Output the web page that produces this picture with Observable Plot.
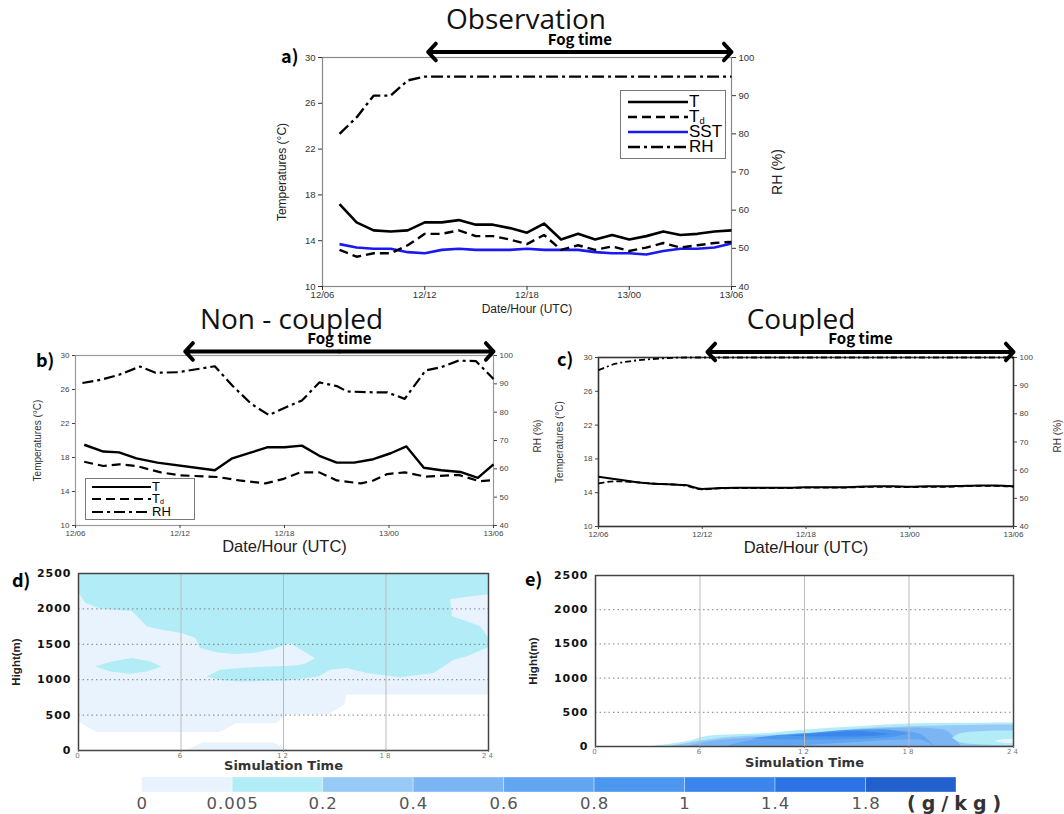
<!DOCTYPE html>
<html>
<head>
<meta charset="utf-8">
<script src="https://cdn.jsdelivr.net/npm/d3@7"></script>
<script src="https://cdn.jsdelivr.net/npm/@observablehq/plot@0.6"></script>
<style>
  body { margin: 0; background: #fff; }
  #root { position: relative; width: 1064px; height: 814px; overflow: hidden; background: #fff; font-family: "Liberation Sans", Arial, sans-serif; }
  .plab { position: absolute; font-family: "Noto Sans CJK KR", "Noto Sans", sans-serif; font-weight: bold; font-size: 18px; line-height: 1; color: #000; }
  .leg { position: absolute; border: 1px solid #777; background: #fff; font-family: "Liberation Sans", Arial, sans-serif; color: #000; }
  .leg .row { position: absolute; left: 0; white-space: nowrap; line-height: 1; }
  .leg .row span.sub { font-size: 55%; position: relative; top: 0.2em; }
  .leg svg { position: absolute; overflow: visible; }
</style>
</head>
<body>
<div id="root"></div>
<script>
// ---------- shared axes ----------
const timeTicks = [0, 6, 12, 18, 24];
const timeTickLabels = ["12/06", "12/12", "12/18", "13/00", "13/06"];
const tempTicks = [10, 14, 18, 22, 26, 30];
const rhTicks = [40, 50, 60, 70, 80, 90, 100];
const hgtTicks = [0, 500, 1000, 1500, 2000, 2500];
const simTicks = [0, 6, 12, 18, 24];

// ---------- a) Observation ----------
const obsHours = [1, 2, 3, 4, 5, 6, 7, 8, 9, 10, 11, 12, 13, 14, 15, 16, 17, 18, 19, 20, 21, 22, 23, 24];
const obsT   = [17.2, 15.6, 14.9, 14.8, 14.9, 15.6, 15.6, 15.8, 15.4, 15.4, 15.1, 14.7, 15.5, 14.1, 14.6, 14.1, 14.5, 14.1, 14.4, 14.8, 14.5, 14.6, 14.8, 14.9];
const obsTd  = [13.2, 12.6, 12.9, 12.9, 13.6, 14.6, 14.6, 14.9, 14.4, 14.4, 14.1, 13.7, 14.5, 13.2, 13.6, 13.2, 13.5, 13.1, 13.4, 13.8, 13.4, 13.6, 13.8, 13.9];
const obsSST = [13.7, 13.4, 13.3, 13.3, 13.0, 12.9, 13.2, 13.3, 13.2, 13.2, 13.2, 13.3, 13.2, 13.2, 13.2, 13.0, 12.9, 12.9, 12.8, 13.1, 13.3, 13.3, 13.4, 13.75];
const obsRH  = [80, 84.3, 90, 90, 94, 95, 95, 95, 95, 95, 95, 95, 95, 95, 95, 95, 95, 95, 95, 95, 95, 95, 95, 95];
const obsFog = [6.2, 24];

// ---------- b) Non-coupled ----------
const nonTHours = [0.5, 1.6, 2.5, 3.5, 4.7, 8.0, 9.0, 10.1, 11.0, 12.0, 13.0, 14.0, 15.0, 16.0, 17.1, 18.1, 19.0, 20.0, 21.0, 22.1, 23.1, 24];
const nonT      = [19.5, 18.7, 18.6, 17.9, 17.4, 16.5, 17.9, 18.6, 19.2, 19.2, 19.4, 18.2, 17.4, 17.4, 17.8, 18.5, 19.3, 16.8, 16.5, 16.3, 15.6, 17.2];
const nonTdHours = [0.5, 1.6, 2.5, 3.5, 4.9, 6.0, 8.2, 9.4, 10.9, 11.9, 12.9, 14.0, 15.0, 16.4, 17.1, 17.9, 18.9, 20.1, 22.0, 23.2, 24];
const nonTd      = [17.5, 17.0, 17.2, 17.0, 16.25, 15.9, 15.7, 15.3, 14.95, 15.45, 16.25, 16.25, 15.3, 14.95, 15.3, 16.05, 16.25, 15.75, 15.95, 15.2, 15.35];
const nonRHHours = [0.4, 1.5, 2.5, 3.7, 4.6, 5.9, 8.0, 9.0, 10.1, 11.1, 12.3, 13.0, 14.0, 15.0, 15.6, 17.1, 17.9, 18.9, 20.1, 21.0, 22.0, 23.0, 24];
const nonRH      = [90.3, 91.5, 93.2, 96.1, 93.9, 94.1, 96.2, 89.4, 82.9, 79.0, 82.3, 84.1, 90.5, 89.2, 87.3, 87.0, 87.0, 84.7, 94.7, 95.9, 98.2, 98.0, 91.7];
const nonFog = [6.3, 24];

// ---------- c) Coupled ----------
const coupHours = [0, 1, 2, 3, 4, 5, 6, 7, 8, 9, 10, 11, 12, 13, 14, 15, 16, 17, 18, 19, 20, 21, 22, 23, 24];
const coupT  = [15.9, 15.6, 15.3, 15.1, 15.0, 14.9, 14.45, 14.55, 14.6, 14.6, 14.6, 14.6, 14.65, 14.65, 14.65, 14.7, 14.75, 14.75, 14.7, 14.75, 14.75, 14.8, 14.85, 14.85, 14.75];
const coupTd = [15.1, 15.35, 15.25, 15.1, 15.0, 14.85, 14.4, 14.5, 14.55, 14.55, 14.55, 14.55, 14.6, 14.6, 14.6, 14.65, 14.7, 14.7, 14.65, 14.7, 14.7, 14.75, 14.8, 14.8, 14.7];
const coupRH = [95.5, 97.8, 98.8, 99.4, 99.8, 100, 100, 100, 100, 100, 100, 100, 100, 100, 100, 100, 100, 100, 100, 100, 100, 100, 100, 100, 100];
const coupFog = [6.3, 24];

// ---------- d) Non-coupled cloud water (contour regions) ----------
const dLightT  = [0, 1.07, 8.3, 9.27, 11.6, 12.2, 14.6, 15.6, 15.7, 24];
const dLightLo = [405, 254, 254, 382, 382, 500, 500, 642, 784, 784];
const dCyanT = [0, 0, 0.39, 1.27, 3.12, 4.0, 4.78, 6.05, 6.83, 7.12, 8.1, 9.07, 10.24, 11.41, 12.39, 13.17, 13.85, 13.27, 12.59, 10.24, 8.29, 7.51, 8.29, 9.46, 12.2, 14.05, 14.73, 15.71, 16.88, 18.83, 20.78, 21.37, 21.95, 22.73, 24, 24, 23.51, 22.73, 21.85, 21.76, 22.73, 24, 24];
const dCyanH = [2500, 2230, 2088, 2002, 1969, 1756, 1709, 1661, 1590, 1448, 1386, 1363, 1377, 1434, 1519, 1401, 1306, 1225, 1197, 1178, 1140, 1045, 997, 974, 988, 1045, 1140, 1164, 1093, 1036, 1093, 1187, 1282, 1330, 1462, 1590, 1756, 1827, 1898, 2135, 2173, 2206, 2500];
const dBlobT = [0.98, 1.95, 3.12, 4.2, 4.85, 4.0, 3.02, 1.85];
const dBlobH = [1187, 1258, 1306, 1258, 1187, 1116, 1083, 1116];
const dFootT = [6.3, 7.3, 11.4, 12.4];
const dFootH = [0, 107, 107, 0];

// ---------- e) Coupled cloud water (layered contour regions) ----------
const eL1T = [3.2, 4.5, 5.5, 6.5, 8, 9.6, 11.6, 13.5, 15.6, 17.5, 19.5, 22, 24];
const eL1H = [0, 40, 85, 150, 170, 185, 230, 265, 295, 325, 337, 340, 342];
const eL2T = [4.3, 5.5, 6.5, 7.8, 10, 12.2, 14.8, 16.5, 18.1, 20.6, 22, 24];
const eL2H = [0, 55, 95, 135, 160, 190, 250, 275, 290, 305, 312, 315];
const eL3T = [5.2, 6.3, 8, 10, 12, 14.5, 16.5, 18.5, 20, 21];
const eL3H = [0, 60, 110, 140, 175, 235, 260, 270, 240, 0];
const eL4T  = [7.5, 9, 11, 13, 15, 17, 18.5, 19.5];
const eL4Lo = [0, 0, 0, 30, 60, 90, 100, 0];
const eL4Hi = [0, 90, 130, 170, 215, 235, 190, 0];
const eL5T  = [9, 10.5, 12.5, 14.5, 16.5, 18];
const eL5Lo = [110, 100, 95, 100, 120, 180];
const eL5Hi = [110, 160, 195, 235, 245, 180];
const eL6T  = [11, 13, 15, 17];
const eL6Lo = [150, 140, 140, 175];
const eL6Hi = [150, 190, 220, 175];
const eEllT  = [20.5, 21, 22, 23, 24];
const eEllLo = [120, 50, 25, 15, 15];
const eEllHi = [120, 190, 215, 225, 225];
const eSpotT  = [22.9, 23.4, 24];
const eSpotLo = [75, 48, 44];
const eSpotHi = [75, 100, 107];

// ---------- colour bar ----------
const cbColors = ["#e8f3fd", "#b2ecf7", "#96c9f6", "#7cb5f3", "#62a5f1", "#4d98ef", "#3a86ec", "#2b73e4", "#2160cd"];
const cbLabels = ["0", "0.005", "0.2", "0.4", "0.6", "0.8", "1", "1.4", "1.8"];
const cbUnit = "(g/kg)";

// ---------- titles ----------
const titleObs = "Observation", titleNon = "Non - coupled", titleCoup = "Coupled";

// ================= helpers =================
const root = document.getElementById("root");
function put(node, left, top) {
  node.style.position = "absolute";
  node.style.left = left + "px";
  node.style.top = top + "px";
  root.appendChild(node);
  return node;
}
function div(cls, html, left, top, extra) {
  const d = document.createElement("div");
  d.className = cls;
  d.innerHTML = html;
  if (extra) d.style.cssText = extra;
  return put(d, left, top);
}
const rhToT = rh => 10 + (rh - 40) / 3;
const rows = (xs, ys, f = v => v) => xs.map((x, i) => ({x, y: f(ys[i])}));
const fmtTime = d => timeTickLabels[timeTicks.indexOf(d)];

function tsAxes(fs, color, tickSize, xPad = 2) {
  return [
    Plot.axisY(tempTicks, {anchor: "left", label: null, tickSize, tickPadding: 3, fontSize: fs, color}),
    Plot.axisY(rhTicks.map(rhToT), {anchor: "right", label: null, tickSize, tickPadding: 3, fontSize: fs, color,
      tickFormat: d => String(Math.round(40 + (d - 10) * 3))}),
    Plot.axisX(timeTicks, {anchor: "bottom", label: null, tickSize, tickPadding: xPad, fontSize: fs, color, tickFormat: fmtTime})
  ];
}
function fogMarks(fog, arrowDy, textDy) {
  const mid = (fog[0] + fog[1]) / 2;
  const top = tempTicks[tempTicks.length - 1];
  const arrows = fog.map(e => ({from: mid, to: e, y: top}));
  return [
    Plot.arrow(arrows, {x1: "from", x2: "to", y1: "y", y2: "y", dy: arrowDy, stroke: "#000", strokeWidth: 4, headLength: 4.2, headAngle: 95}),
    Plot.text([{x: mid, y: top, s: "Fog time"}], {x: "x", y: "y", text: "s", dy: textDy, fontSize: 15, fontWeight: "bold",
      fontFamily: "Noto Sans CJK KR, Noto Sans, sans-serif", fill: "#000"})
  ];
}
function titleMark(t, dx, dy) {
  return Plot.text([t], {frameAnchor: "top", lineAnchor: "middle", dx, dy, textAnchor: "middle", fontSize: 28, fill: "#111",
    fontFamily: "Open Sans, Noto Sans, sans-serif"});
}
function line(xs, ys, opts, f) {
  return Plot.line(rows(xs, ys, f), {x: "x", y: "y", strokeLinejoin: "round", strokeLinecap: "butt", ...opts});
}
const baseStyle = {background: "transparent", overflow: "visible", fontFamily: "Liberation Sans, Arial, sans-serif"};

// ================= a) Observation =================
const plotA = Plot.plot({
  width: 530, height: 320, marginLeft: 72, marginRight: 49, marginTop: 57, marginBottom: 34,
  x: {domain: [0, 24]}, y: {domain: [10, 30]}, style: baseStyle,
  marks: [
    Plot.frame({stroke: "#888", strokeWidth: 1.2}),
    ...tsAxes(9.5, "#333", 4, 1),
    line(obsHours, obsRH, {stroke: "#000", strokeWidth: 2.4, strokeDasharray: "12,4,3,4"}, rhToT),
    line(obsHours, obsSST, {stroke: "#1a1af0", strokeWidth: 2.6}),
    line(obsHours, obsTd, {stroke: "#000", strokeWidth: 2.4, strokeDasharray: "9,5"}),
    line(obsHours, obsT, {stroke: "#000", strokeWidth: 2.6}),
    ...fogMarks(obsFog, -5.5, -17),
    titleMark(titleObs, -1, -37),
    Plot.text(["Temperatures (°C)"], {frameAnchor: "left", rotate: -90, dx: -40, textAnchor: "middle", fontSize: 12, fill: "#222"}),
    Plot.text(["RH (%)"], {frameAnchor: "right", rotate: -90, dx: 46, textAnchor: "middle", fontSize: 14, fill: "#222"}),
    Plot.text(["Date/Hour (UTC)"], {frameAnchor: "bottom", dy: 26, textAnchor: "middle", fontSize: 12, fill: "#222"})
  ]
});
put(plotA, 250, 0);

// ================= b) Non-coupled =================
const plotB = Plot.plot({
  width: 530, height: 260, marginLeft: 75, marginRight: 37, marginTop: 55, marginBottom: 35,
  x: {domain: [0, 24]}, y: {domain: [10, 30]}, style: baseStyle,
  marks: [
    Plot.frame({stroke: "#999", strokeWidth: 1.2}),
    ...tsAxes(8, "#444", 3),
    line(nonRHHours, nonRH, {stroke: "#000", strokeWidth: 2.2, strokeDasharray: "11,4,3,4"}, rhToT),
    line(nonTdHours, nonTd, {stroke: "#000", strokeWidth: 2.2, strokeDasharray: "9,5"}),
    line(nonTHours, nonT, {stroke: "#000", strokeWidth: 2.4}),
    ...fogMarks(nonFog, -4, -16),
    titleMark(titleNon, 7, -35),
    Plot.text(["Temperatures (°C)"], {frameAnchor: "left", rotate: -90, dx: -38, textAnchor: "middle", fontSize: 10, fill: "#333"}),
    Plot.text(["Date/Hour (UTC)"], {frameAnchor: "bottom", dy: 26, textAnchor: "middle", fontSize: 16.5, fill: "#222"})
  ]
});
put(plotB, 0, 300);

// ================= c) Coupled =================
const plotC = Plot.plot({
  width: 534, height: 260, marginLeft: 68, marginRight: 51, marginTop: 57, marginBottom: 34,
  x: {domain: [0, 24]}, y: {domain: [10, 30]}, style: baseStyle,
  marks: [
    Plot.frame({stroke: "#333", strokeWidth: 1.6}),
    ...tsAxes(8, "#444", 3),
    line(coupHours, coupRH, {stroke: "#000", strokeWidth: 1.8, strokeDasharray: "6,3,2,3", curve: "monotone-x"}, rhToT),
    line(coupHours, coupTd, {stroke: "#000", strokeWidth: 1.8, strokeDasharray: "6,3", curve: "monotone-x"}),
    line(coupHours, coupT, {stroke: "#000", strokeWidth: 2, curve: "monotone-x"}),
    ...fogMarks(coupFog, -5.5, -18),
    titleMark(titleCoup, -5, -37),
    Plot.text(["Temperatures (°C)"], {frameAnchor: "left", rotate: -90, dx: -39, textAnchor: "middle", fontSize: 10, fill: "#333"}),
    Plot.text(["RH (%)"], {frameAnchor: "left", rotate: -90, dx: -61, dy: -6, textAnchor: "middle", fontSize: 10, fill: "#333"}),
    Plot.text(["RH (%)"], {frameAnchor: "right", rotate: -90, dx: 44, dy: -6, textAnchor: "middle", fontSize: 10, fill: "#333"}),
    Plot.text(["Date/Hour (UTC)"], {frameAnchor: "bottom", dy: 26, textAnchor: "middle", fontSize: 16.5, fill: "#222"})
  ]
});
put(plotC, 530, 300);

// ================= d) & e) height-time sections =================
const hTop = hgtTicks[hgtTicks.length - 1];
function hgtAxes(labelDy) {
  return [
    Plot.gridY(hgtTicks.slice(1, -1), {stroke: "#777", strokeOpacity: 0.9, strokeDasharray: "1.5,3"}),
    Plot.gridX(simTicks.slice(1, -1), {stroke: "#bbb", strokeOpacity: 1}),
    Plot.frame({stroke: "#444", strokeWidth: 1.5}),
    Plot.axisY(hgtTicks, {anchor: "left", label: null, tickSize: 0, tickPadding: 7, fontSize: 11, fontWeight: "bold",
      fontFamily: "DejaVu Sans, sans-serif", color: "#111", tickFormat: d => String(d)}),
    Plot.axisX(simTicks, {anchor: "bottom", label: null, tickSize: 2, tickPadding: 1, fontSize: 7,
      fontFamily: "DejaVu Sans, sans-serif", color: "#777", tickFormat: d => String(d)}),
    Plot.text(["Simulation Time"], {frameAnchor: "bottom", dy: labelDy, textAnchor: "middle", fontSize: 13, fontWeight: "bold",
      fontFamily: "DejaVu Sans, sans-serif", fill: "#333"}),
    Plot.text(["Hight(m)"], {frameAnchor: "left", rotate: -90, dx: -62, textAnchor: "middle", fontSize: 11.5, fontWeight: "bold",
      fontFamily: "Liberation Sans Narrow, Liberation Sans, sans-serif", fill: "#222"})
  ];
}
function band(ts, lo, hi, fill, curve = "linear") {
  return Plot.areaY(ts.map((t, i) => ({t, lo: lo[i], hi: hi[i]})), {x: "t", y1: "lo", y2: "hi", fill, curve});
}
function poly(ts, hs, fill) {
  return Plot.line(ts.map((t, i) => ({t, h: hs[i]})), {x: "t", y: "h", fill, stroke: "none", curve: "linear-closed"});
}
function letterSpace(svg, sel, ls) {
  d3.select(svg).selectAll(sel).style("letter-spacing", ls);
}

const plotD = Plot.plot({
  width: 520, height: 215, marginLeft: 78, marginRight: 32, marginTop: 13, marginBottom: 25,
  x: {domain: [0, 24]}, y: {domain: [0, hTop]}, style: baseStyle,
  marks: [
    band(dLightT, dLightLo, dLightT.map(() => hTop), cbColors[0]),
    band(dFootT, dFootT.map(() => 0), dFootH, cbColors[0]),
    poly(dCyanT, dCyanH, cbColors[1]),
    poly(dBlobT, dBlobH, cbColors[1]),
    ...hgtAxes(19)
  ]
});
put(plotD, 0, 560);

const zeros = a => a.map(() => 0);
const plotE = Plot.plot({
  width: 544, height: 215, marginLeft: 75, marginRight: 51, marginTop: 15, marginBottom: 29,
  x: {domain: [0, 24]}, y: {domain: [0, hTop]}, style: baseStyle,
  marks: [
    band(eL1T, zeros(eL1T), eL1H, cbColors[1], "monotone-x"),
    band(eL2T, zeros(eL2T), eL2H, cbColors[2], "monotone-x"),
    band(eL3T, zeros(eL3T), eL3H, cbColors[3], "monotone-x"),
    band(eL4T, eL4Lo, eL4Hi, cbColors[4], "monotone-x"),
    band(eL5T, eL5Lo, eL5Hi, cbColors[5], "monotone-x"),
    band(eL6T, eL6Lo, eL6Hi, cbColors[6], "monotone-x"),
    band(eEllT, eEllLo, eEllHi, cbColors[1], "monotone-x"),
    band(eSpotT, eSpotLo, eSpotHi, cbColors[0], "monotone-x"),
    ...hgtAxes(20)
  ]
});
put(plotE, 520, 560);

// ================= colour bar =================
const plotCB = Plot.plot({
  width: 1064, height: 44, marginLeft: 141.7, marginRight: 108, marginTop: 7, marginBottom: 22,
  x: {domain: [0, cbColors.length], axis: null}, y: {domain: [0, 1], axis: null}, color: {type: "identity"},
  style: baseStyle,
  marks: [
    Plot.rect(cbColors.map((c, i) => ({i, c})), {x1: "i", x2: d => d.i + 1, y1: () => 0, y2: () => 1, fill: "c", stroke: "#fff", strokeOpacity: 0.35}),
    Plot.text(cbLabels.map((l, i) => ({i, l})), {x: "i", y: () => 0, text: "l", dy: 11, textAnchor: "middle", fontSize: 16.5,
      fontFamily: "DejaVu Sans, sans-serif", fill: "#555"}),
    Plot.text([{i: cbLabels.length - 1, u: cbUnit}], {x: "i", y: () => 0, text: "u", dy: 11, dx: 41, textAnchor: "start",
      fontSize: 19, fontWeight: "bold", fontFamily: "DejaVu Sans, sans-serif", fill: "#333"})
  ]
});
put(plotCB, 0, 770);
d3.select(plotCB).selectAll("g[aria-label='text'] text").style("letter-spacing", "1px");
d3.select(plotCB).selectAll("text").filter(function () { return this.textContent === cbUnit; }).style("letter-spacing", "6px");
letterSpace(plotD, "g[aria-label='x-axis tick label'] text", "2px");
letterSpace(plotE, "g[aria-label='x-axis tick label'] text", "2px");
letterSpace(plotD, "g[aria-label='y-axis tick label'] text", "1px");
letterSpace(plotE, "g[aria-label='y-axis tick label'] text", "1px");

// ================= legends =================
function legend(items, left, top, w, h, rowY, x0, x1, fs) {
  const box = div("leg", "", left, top, `width:${w}px;height:${h}px;`);
  items.forEach((it, k) => {
    const svgNS = "http://www.w3.org/2000/svg";
    const s = document.createElementNS(svgNS, "svg");
    s.setAttribute("width", x1 - x0); s.setAttribute("height", 6);
    s.style.left = x0 + "px"; s.style.top = (rowY[k] - 3) + "px";
    const l = document.createElementNS(svgNS, "line");
    l.setAttribute("x1", 0); l.setAttribute("x2", x1 - x0); l.setAttribute("y1", 3); l.setAttribute("y2", 3);
    l.setAttribute("stroke", it.color || "#000"); l.setAttribute("stroke-width", it.w || 2.4);
    if (it.dash) l.setAttribute("stroke-dasharray", it.dash);
    s.appendChild(l); box.appendChild(s);
    const t = document.createElement("div");
    t.className = "row"; t.innerHTML = it.label;
    t.style.left = (x1 + 1) + "px"; t.style.top = (rowY[k] - fs * 0.55) + "px"; t.style.fontSize = fs + "px";
    box.appendChild(t);
  });
}
legend([
  {label: "T"},
  {label: "T<span class='sub'>d</span>", dash: "9,5"},
  {label: "SST", color: "#1a1af0", w: 2.6},
  {label: "RH", dash: "12,4,3,4"}
], 620, 90, 104, 67, [11, 26, 41, 56], 7, 67, 17);
legend([
  {label: "T", w: 2.2},
  {label: "T<span class='sub'>d</span>", dash: "9,5", w: 2.2},
  {label: "RH", dash: "11,4,3,4", w: 2.2}
], 85, 478, 108, 40, [8, 20, 33], 6, 65, 13);

// ================= panel letters =================
div("plab", "a)", 281, 46);
div("plab", "b)", 36, 350);
div("plab", "c)", 557, 349);
div("plab", "d)", 12, 570);
div("plab", "e)", 525, 569);
</script>
</body>
</html>
